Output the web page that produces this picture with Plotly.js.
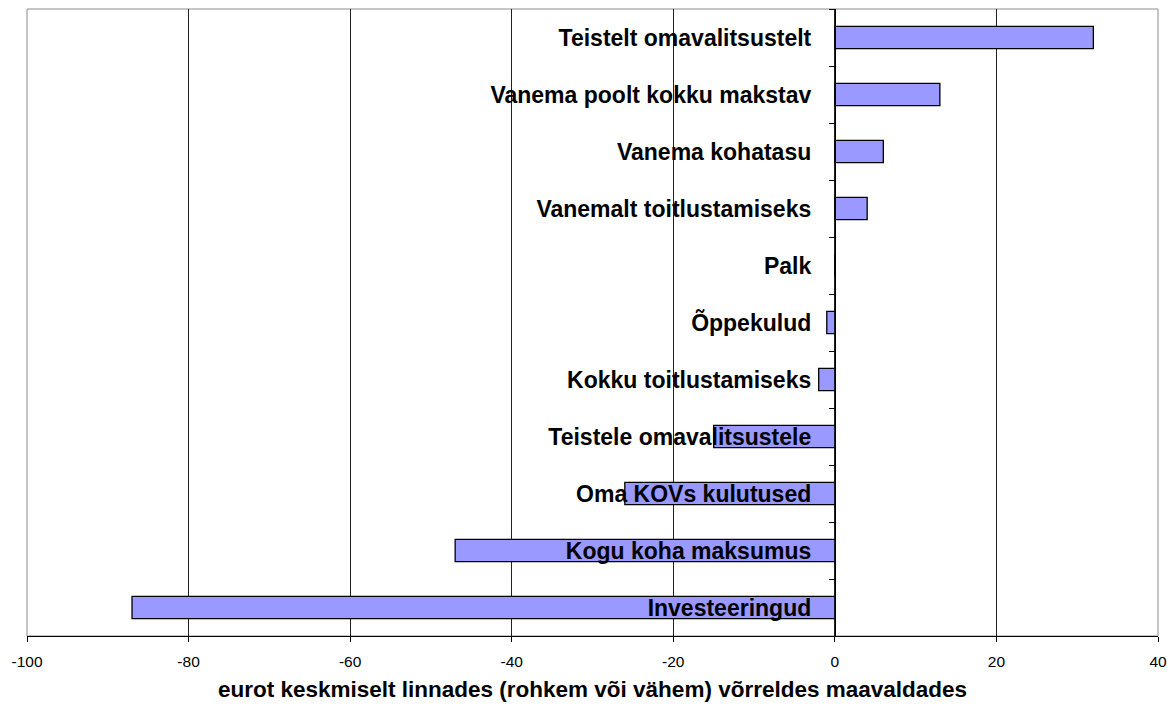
<!DOCTYPE html>
<html>
<head>
<meta charset="utf-8">
<script src="https://cdn.plot.ly/plotly-3.0.1.min.js"></script>
<style>html,body{margin:0;padding:0;background:#fff;}#chart{width:1173px;height:708px;}</style>
</head>
<body>
<div id="chart"></div>
<script>
const categories = [
  "Teistelt omavalitsustelt",
  "Vanema poolt kokku makstav",
  "Vanema kohatasu",
  "Vanemalt toitlustamiseks",
  "Palk",
  "Õppekulud",
  "Kokku toitlustamiseks",
  "Teistele omavalitsustele",
  "Oma KOVs kulutused",
  "Kogu koha maksumus",
  "Investeeringud"
];
const values = [32, 13, 6, 4, 0, -1, -2, -15, -26, -47, -87];
const xTicks = [-100, -80, -60, -40, -20, 0, 20, 40];
const xTitle = "eurot keskmiselt linnades (rohkem või vähem) võrreldes maavaldades";

const font = "Liberation Sans, Arial, sans-serif";

Plotly.newPlot("chart", [{
  type: "bar",
  orientation: "h",
  y: categories,
  x: values,
  width: 0.39,
  marker: {color: "#9999FF", line: {color: "#000000", width: 1.3}},
  hoverinfo: "none"
}], {
  width: 1173, height: 708,
  margin: {l: 27, r: 15, t: 9, b: 72},
  paper_bgcolor: "#ffffff",
  plot_bgcolor: "#ffffff",
  showlegend: false,
  font: {family: font, color: "#000"},
  xaxis: {
    range: [-100, 40],
    tickvals: xTicks,
    ticktext: xTicks.map(String),
    showgrid: true,
    gridcolor: "#222",
    gridwidth: 1,
    zeroline: false,
    showline: true,
    linecolor: "#000",
    linewidth: 1,
    ticks: "outside",
    ticklen: 5,
    tickcolor: "#000",
    tickfont: {size: 15.5, family: font},
    ticklabelstandoff: 6,
    title: {text: xTitle, font: {size: 22.5, family: font, weight: "bold"}, standoff: 12},
    fixedrange: true
  },
  yaxis: {
    type: "category",
    autorange: "reversed",
    anchor: "free",
    position: 100/140,
    showline: true,
    linecolor: "#000",
    linewidth: 1,
    showgrid: false,
    zeroline: false,
    ticks: "outside",
    tickson: "boundaries",
    ticklen: 6,
    tickcolor: "#000",
    tickfont: {size: 23, family: font, weight: "bold"},
    ticklabelstandoff: 19,
    layer: "above traces",
    fixedrange: true
  },
  shapes: [{
    type: "rect", xref: "paper", yref: "paper", x0: 0, x1: 1, y0: 0, y1: 1,
    line: {color: "#8c8c8c", width: 1}, layer: "below"
  }]
}, {displayModeBar: false, staticPlot: true});
</script>
</body>
</html>
